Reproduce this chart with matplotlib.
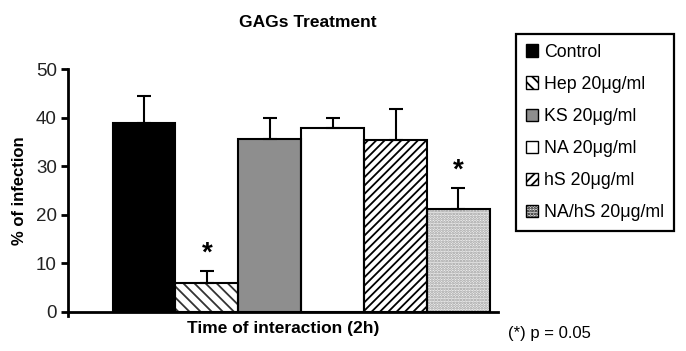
import matplotlib

matplotlib.use("Agg")
import matplotlib.pyplot as plt
from matplotlib.patches import Patch

# mean % of infection and upper error (SD) per treatment
labels = ["Control", "Hep 20\u03bcg/ml", "KS 20\u03bcg/ml", "NA 20\u03bcg/ml",
          "hS 20\u03bcg/ml", "NA/hS 20\u03bcg/ml"]
means = [38.8, 6.0, 35.5, 37.9, 35.3, 21.1]
errors = [5.7, 2.4, 4.4, 2.0, 6.4, 4.5]
significant = [False, True, False, False, False, True]

faces = ["black", "white", "#8e8e8e", "white", "white", "#f0f0f0"]
hatches = [None, "\\\\\\", None, None, "////", "......"]
hatch_colors = ["black", "#333333", "black", "black", "black", "#9a9a9a"]

plt.rcParams["font.family"] = ["Liberation Sans", "DejaVu Sans"]
plt.rcParams["hatch.linewidth"] = 1.3

fig = plt.figure(figsize=(6.86, 3.51), dpi=100)
ax = fig.add_axes([0.099, 0.112, 0.627, 0.691])

xs = list(range(len(means)))
for x, m, e, fc, h, hc in zip(xs, means, errors, faces, hatches, hatch_colors):
    # fill + hatch first, then a plain black outline on top
    ax.bar(x, m, width=1.0, color=fc, edgecolor=hc, linewidth=0,
           hatch=h, zorder=2)
    ax.bar(x, m, width=1.0, fill=False, edgecolor="black", linewidth=1.5,
           zorder=2.5)
    ax.errorbar(x, m, yerr=[[0], [e]], fmt="none", ecolor="black",
                elinewidth=1.5, capsize=5, capthick=1.5, zorder=3)

for x, m, e, sig in zip(xs, means, errors, significant):
    if sig:
        ax.text(x, m + e + 0.8, "*", ha="center", va="bottom",
                fontsize=20, fontweight="bold")

ax.set_xlim(-1.21, 5.63)
ax.set_ylim(0, 50)
ax.set_yticks([0, 10, 20, 30, 40, 50])
ax.set_xticks([])
ax.spines["top"].set_visible(False)
ax.spines["right"].set_visible(False)
ax.spines["left"].set_linewidth(2)
ax.spines["bottom"].set_linewidth(2)
ax.spines["left"].set_bounds(-0.9, 50)
ax.tick_params(axis="y", direction="out", length=5, width=2, labelsize=13.5,
               labelcolor="#222222", pad=3)

ax.set_ylabel("% of infection", fontsize=12, fontweight="bold", labelpad=6)
ax.set_xlabel("Time of interaction (2h)", fontsize=12.5, fontweight="bold",
              labelpad=7)
fig.text(0.449, 0.935, "GAGs Treatment", ha="center", va="center",
         fontsize=12.5, fontweight="bold")
fig.text(0.741, 0.05, "(*) p = 0.05", ha="left", va="center", fontsize=12)

handles = [Patch(facecolor=fc, edgecolor="black", hatch=h, linewidth=1.0)
           for fc, h in zip(faces, hatches)]
leg = fig.legend(handles, labels, loc="upper left",
                 bbox_to_anchor=(0.752, 0.903), fontsize=12.8,
                 handlelength=0.7, handleheight=0.7, handletextpad=0.35,
                 labelspacing=0.85, borderpad=0.55, borderaxespad=0,
                 fancybox=False, framealpha=1, edgecolor="black")
leg.get_frame().set_linewidth(1.6)

fig.savefig("out.png", dpi=100)
